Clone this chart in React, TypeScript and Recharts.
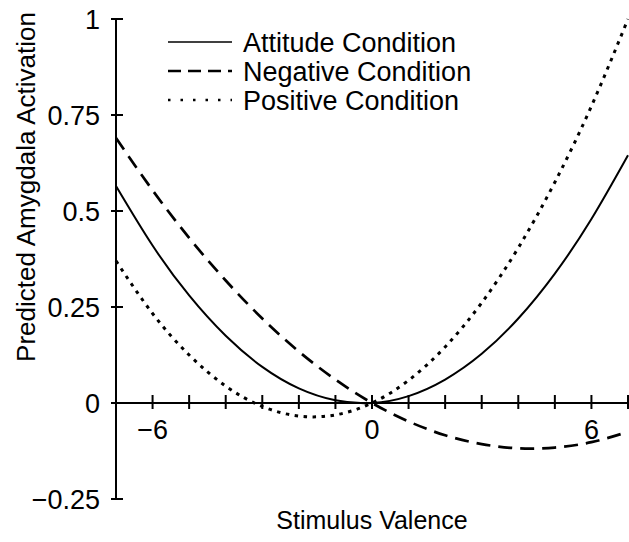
import React from 'react';
import { LineChart, Line, XAxis, YAxis, ReferenceLine, ReferenceDot, Legend } from 'recharts';

// stimulus valence (x) and predicted activation
const valence = [-7, -6, -5, -4, -3, -2, -1, 0, 1, 2, 3, 4, 5, 6, 7];
const attitude = [0.565, 0.41, 0.28, 0.175, 0.094, 0.038, 0.007, 0, 0.018, 0.061, 0.128, 0.22, 0.337, 0.479, 0.645];
const negative = [0.69, 0.554, 0.43, 0.319, 0.22, 0.134, 0.061, 0, -0.048, -0.084, -0.107, -0.118, -0.116, -0.102, -0.075];
const positive = [0.37, 0.233, 0.125, 0.044, -0.009, -0.034, -0.031, 0, 0.059, 0.146, 0.261, 0.404, 0.575, 0.773, 1.0];

const yTicks = [-0.25, 0, 0.25, 0.5, 0.75, 1];
const xTickMarks = [-6, -5, -4, -3, -2, -1, 0, 1, 2, 3, 4, 5, 6, 7];
const xTickLabels = [-6, 0, 6];

const data = valence.map((v, i) => ({
  valence: v,
  attitude: attitude[i],
  negative: negative[i],
  positive: positive[i],
}));

const series = [
  { key: 'attitude', name: 'Attitude Condition', width: 2, dash: undefined, legendDash: undefined },
  { key: 'negative', name: 'Negative Condition', width: 2.7, dash: '14 8', legendDash: '13 7' },
  { key: 'positive', name: 'Positive Condition', width: 3, dash: '3.5 5.5', legendDash: '2.5 10' },
];

const FONT = '"Liberation Sans", Arial, Helvetica, sans-serif';
const fmt = (v: number) => String(v).replace('-', '\u2212');

const LegendBox = () => (
  <svg width={330} height={95} style={{ display: 'block' }}>
    {series.map((s, i) => (
      <g key={s.key} transform={`translate(0, ${14 + i * 29})`}>
        <line x1={8} x2={72} y1={0} y2={0} stroke="#000" strokeWidth={s.key === 'attitude' ? 1.6 : 2.6} strokeDasharray={s.legendDash} />
        <text x={83} y={10} fontSize={27} fontFamily={FONT} fill="#000">{s.name}</text>
      </g>
    ))}
  </svg>
);

export default function App() {
  return (
    <div style={{ position: 'absolute', left: 0, top: 0, background: '#fff' }}>
      <LineChart width={629} height={542} data={data} margin={{ top: 19, right: 1, left: 0, bottom: 43 }}>
        <XAxis dataKey="valence" type="number" domain={[-7, 7]} hide />
        <YAxis
          type="number"
          domain={[-0.25, 1]}
          ticks={yTicks}
          width={116}
          tickLine={false}
          tickSize={5}
          tickMargin={11}
          axisLine={{ stroke: '#000', strokeWidth: 2 }}
          tick={{ fill: '#000', fontSize: 27, fontFamily: FONT }}
          tickFormatter={fmt}
          label={({ viewBox }: any) => (
            <text
              x={viewBox.x + 35}
              y={viewBox.y + 168}
              transform={`rotate(-90, ${viewBox.x + 35}, ${viewBox.y + 168})`}
              textAnchor="middle"
              fontSize={26}
              fontFamily={FONT}
              fill="#000"
            >
              Predicted Amygdala Activation
            </text>
          )}
        />
        <ReferenceLine y={0} stroke="#000" strokeWidth={2} />
        {yTicks.map((t) => (
          <ReferenceDot
            key={`yt${t}`}
            x={-7}
            y={t}
            ifOverflow="visible"
            shape={(p: any) => <line x1={p.cx - 5} x2={p.cx + 7} y1={p.cy} y2={p.cy} stroke="#000" strokeWidth={2} />}
          />
        ))}
        {xTickMarks.map((t) => (
          <ReferenceDot
            key={`xt${t}`}
            x={t}
            y={0}
            ifOverflow="visible"
            shape={(p: any) => (
              <g>
                <line x1={p.cx} x2={p.cx} y1={p.cy - 8} y2={p.cy + 6} stroke="#000" strokeWidth={2} />
                {xTickLabels.includes(t) && (
                  <text x={p.cx} y={p.cy + 36} textAnchor="middle" fontSize={27} fontFamily={FONT} fill="#000">
                    {fmt(t)}
                  </text>
                )}
              </g>
            )}
          />
        ))}
        {series.map((s) => (
          <Line
            key={s.key}
            type="natural"
            dataKey={s.key}
            name={s.name}
            stroke="#000"
            strokeWidth={s.width}
            strokeDasharray={s.dash}
            dot={false}
            activeDot={false}
            isAnimationActive={false}
          />
        ))}
        <Legend
          layout="vertical"
          align="center"
          verticalAlign="middle"
          wrapperStyle={{ position: 'absolute', left: 160, top: 28, width: 330 }}
          content={() => <LegendBox />}
        />
      </LineChart>
      <div
        style={{
          position: 'absolute',
          left: 116,
          width: 512,
          top: 506,
          textAlign: 'center',
          fontFamily: FONT,
          fontSize: 25,
          color: '#000',
        }}
      >
        Stimulus Valence
      </div>
    </div>
  );
}
